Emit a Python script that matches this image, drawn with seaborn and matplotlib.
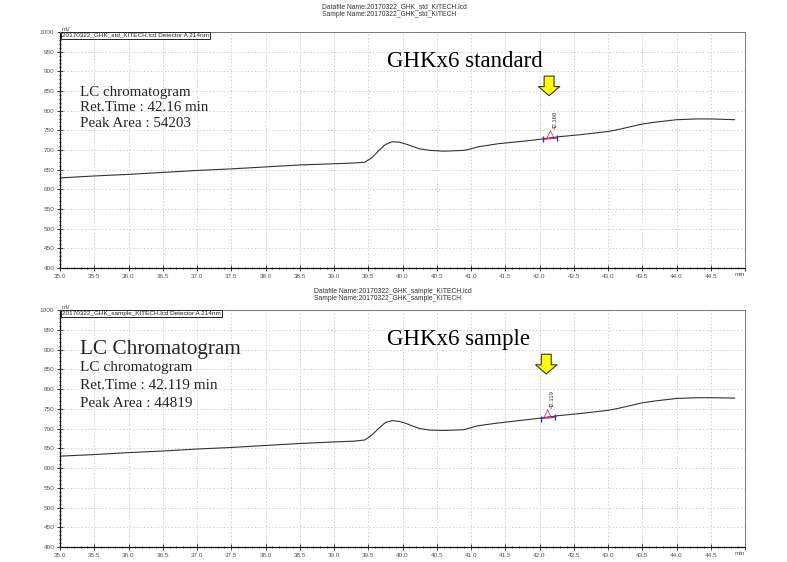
import matplotlib
matplotlib.use("Agg")
import matplotlib.pyplot as plt
from matplotlib.ticker import MultipleLocator, FormatStrFormatter, FuncFormatter
import seaborn as sns
import pandas as pd

# ---------------- data ----------------
time_std = [35.0, 35.5, 36.0, 36.5, 37.0, 37.5, 38.0, 38.5, 39.0, 39.3, 39.45, 39.55, 39.65,
            39.75, 39.85, 39.95, 40.05, 40.15, 40.25, 40.4, 40.6, 40.9, 41.0, 41.1, 41.4,
            41.8, 42.0, 42.16, 42.3, 42.6, 43.0, 43.15, 43.3, 43.5, 43.7, 44.0, 44.3, 44.5, 44.85]
signal_std = [629, 634, 638, 643, 648, 652, 657, 662, 665, 667, 669, 680, 698,
              714, 721, 720, 715, 709, 703, 699, 697, 699, 703, 708, 716,
              723, 727, 731, 734, 739, 747, 752, 758, 766, 771, 777, 779, 779, 777]

time_smp = [35.0, 35.5, 36.0, 36.5, 37.0, 37.5, 38.0, 38.5, 39.0, 39.3, 39.45, 39.55, 39.65,
            39.75, 39.85, 39.95, 40.05, 40.15, 40.25, 40.4, 40.6, 40.9, 41.0, 41.1, 41.4,
            41.8, 42.0, 42.12, 42.3, 42.6, 43.0, 43.15, 43.3, 43.5, 43.7, 44.0, 44.3, 44.5, 44.85]
signal_smp = [630, 634, 639, 643, 648, 652, 657, 662, 666, 668, 671, 683, 700,
              715, 720, 718, 713, 706, 700, 696, 695, 697, 702, 707, 714,
              722, 726, 729, 733, 738, 746, 751, 757, 765, 770, 776, 778, 778, 777]

peak_rt = [42.16, 42.119]
peak_signal = [731, 729]
peak_start = [42.05, 42.02]
peak_end = [42.25, 42.22]
peak_labels = ["42.160", "42.119"]

titles = ["GHKx6 standard", "GHKx6 sample"]
info_lines = [["LC chromatogram", "Ret.Time : 42.16 min", "Peak Area : 54203"],
              ["LC chromatogram", "Ret.Time : 42.119 min", "Peak Area : 44819"]]
headers = [["Datafile Name:20170322_GHK_std_KITECH.lcd", "Sample Name:20170322_GHK_std_KITECH"],
           ["Datafile Name:20170322_GHK_sample_KITECH.lcd", "Sample Name:20170322_GHK_sample_KITECH"]]
legend_labels = ["20170322_GHK_std_KITECH.lcd Detector A 214nm",
                 "20170322_GHK_sample_KITECH.lcd Detector A 214nm"]

# ---------------- style ----------------
sns.set_style("white")
plt.rcParams["font.family"] = ["Liberation Sans", "DejaVu Sans"]

fig = plt.figure(figsize=(7.87, 5.62), dpi=100)
W, H = 787, 562
ax_top = fig.add_axes([60 / W, 1 - 268 / H, 685 / W, 236 / H])
ax_bot = fig.add_axes([60 / W, 1 - 547 / H, 685 / W, 237 / H])

serif = ["Liberation Serif", "DejaVu Serif"]


def xfmt(v, pos):
    return "" if v > 44.9 else f"{v:.1f}"


panels = [
    (ax_top, time_std, signal_std, 0, 7, 15, 322),
    (ax_bot, time_smp, signal_smp, 1, 291, 299, 314),
]
for ax, t, s, i, hy1, hy2, hx in panels:
    df = pd.DataFrame({"time": t, "signal": s})
    sns.lineplot(data=df, x="time", y="signal", ax=ax, color="#333333", lw=0.8)
    ax.set_xlim(35.0, 45.0)
    ax.set_ylim(400, 1000)
    ax.set_xlabel("")
    ax.set_ylabel("")
    ax.xaxis.set_major_locator(MultipleLocator(0.5))
    ax.xaxis.set_minor_locator(MultipleLocator(0.1))
    ax.yaxis.set_major_locator(MultipleLocator(50))
    ax.yaxis.set_minor_locator(MultipleLocator(10))
    ax.xaxis.set_major_formatter(FuncFormatter(xfmt))
    ax.yaxis.set_major_formatter(FormatStrFormatter("%d"))
    ax.tick_params(axis="both", which="major", direction="inout", length=4, width=0.6,
                   labelsize=4.6, labelcolor="#555555", color="#222222", pad=2,
                   bottom=True, left=True)
    ax.tick_params(axis="both", which="minor", direction="inout", length=2, width=0.5,
                   color="#222222", bottom=True, left=True)
    ax.grid(True, which="major", linestyle=(0, (2, 3)), color="#bbbbbb", lw=0.5)
    for side in ["left", "bottom"]:
        ax.spines[side].set_color("#111111")
        ax.spines[side].set_linewidth(0.9)
    for side in ["top", "right"]:
        ax.spines[side].set_color("#777777")
        ax.spines[side].set_linewidth(0.7)

    # legend-like box
    ax.text(0.003, 0.997, legend_labels[i], transform=ax.transAxes, ha="left", va="top",
            fontsize=4.6, color="#222222",
            bbox=dict(boxstyle="square,pad=0.15", fc="white", ec="#222222", lw=0.7))
    ax.text(0.003, 1.002, "mV", transform=ax.transAxes, ha="left", va="bottom",
            fontsize=4.2, color="#555555")
    ax.text(0.992, -0.018, "min", transform=ax.transAxes, ha="center", va="top",
            fontsize=4.6, color="#555555")

    # annotations
    ax.text(39.78, 926, titles[i], fontsize=16.5, family=serif, ha="left", va="center",
            color="black")
    if i == 0:
        ys = [846, 807, 768]
        for txt, yy in zip(info_lines[i], ys):
            ax.text(35.29, yy, txt, fontsize=10.8, family=serif, ha="left", va="center")
    else:
        ax.text(35.29, 900, "LC Chromatogram", fontsize=15.3, family=serif, ha="left",
                va="center")
        ys = [854, 809, 763]
        for txt, yy in zip(info_lines[i], ys):
            ax.text(35.29, yy, txt, fontsize=11.0, family=serif, ha="left", va="center")

    # peak markers
    ax.plot([peak_start[i], peak_end[i]], [peak_signal[i] - 4, peak_signal[i] - 1],
            color="#dd2222", lw=0.7)
    ax.scatter([peak_start[i], peak_end[i]], [peak_signal[i] - 4, peak_signal[i] - 1],
               marker="|", s=18, color="#2233dd", lw=1.0, zorder=4)
    ax.scatter([peak_rt[i]], [peak_signal[i] + 8], marker="^", s=30, facecolor="none",
               edgecolor="#cc3377", lw=0.6, zorder=4)
    ax.text(peak_rt[i] + 0.07, peak_signal[i] + 45, peak_labels[i], rotation=90,
            fontsize=4.3, color="#333333", ha="center", va="center")

    # yellow arrow
    ax.annotate("", xy=(peak_rt[i] - 0.02, 831), xytext=(peak_rt[i] - 0.02, 895),
                arrowprops=dict(arrowstyle="simple,head_width=1.4,head_length=0.6,tail_width=0.65",
                                fc="#ffff00", ec="#333333", lw=0.8, mutation_scale=11))

    fig.text(hx / W, 1 - hy1 / H, headers[i][0], fontsize=4.9,
             color="#333333", ha="left", va="center")
    fig.text(hx / W, 1 - hy2 / H, headers[i][1], fontsize=4.9,
             color="#333333", ha="left", va="center")

fig.savefig("out.png", dpi=100, facecolor="white")
